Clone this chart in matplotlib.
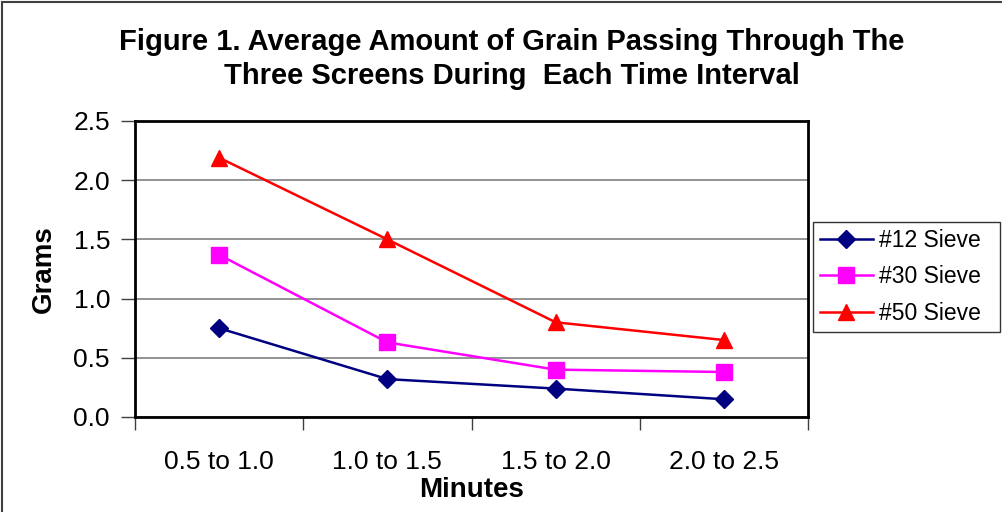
import matplotlib
matplotlib.use("Agg")
import matplotlib.pyplot as plt
from matplotlib.patches import Rectangle

# data
intervals = ["0.5 to 1.0", "1.0 to 1.5", "1.5 to 2.0", "2.0 to 2.5"]
sieve_12 = [0.75, 0.32, 0.24, 0.15]
sieve_30 = [1.37, 0.63, 0.40, 0.38]
sieve_50 = [2.19, 1.50, 0.80, 0.65]
series_names = ["#12 Sieve", "#30 Sieve", "#50 Sieve"]
title_lines = ["Figure 1. Average Amount of Grain Passing Through The",
               "Three Screens During  Each Time Interval"]

plt.rcParams['font.family'] = ['Liberation Sans', 'DejaVu Sans']

W, H = 1002, 512
fig = plt.figure(figsize=(W / 100, H / 100), dpi=100)

# outer chart frame
fig.patches.append(Rectangle((2 / W, -0.1), 1.2, (H - 2) / H + 0.1, transform=fig.transFigure,
                             fill=False, edgecolor='#404040', linewidth=1.5))

# plot area in pixels
left, right, top, bottom = 135, 808, 121, 417
ax = fig.add_axes([left / W, (H - bottom) / H, (right - left) / W, (bottom - top) / H])

x = list(range(len(intervals)))
ax.plot(x, sieve_12, color='#000080', marker='D', markersize=9, linewidth=1.8, label=series_names[0])
ax.plot(x, sieve_30, color='#FF00FF', marker='s', markersize=11, linewidth=1.8, label=series_names[1])
ax.plot(x, sieve_50, color='#FF0000', marker='^', markersize=12, linewidth=1.8, label=series_names[2])

ax.set_xlim(-0.5, len(intervals) - 0.5)
ax.set_ylim(0, 2.5)
ax.set_yticks([0, 0.5, 1.0, 1.5, 2.0, 2.5])
ax.set_yticklabels(["0.0", "0.5", "1.0", "1.5", "2.0", "2.5"])

# category boundaries as major ticks, labels on minor ticks at centers
ax.set_xticks([i - 0.5 for i in range(len(intervals) + 1)])
ax.set_xticklabels([])
ax.set_xticks(x, minor=True)
ax.set_xticklabels(intervals, minor=True)
ax.tick_params(axis='x', which='major', direction='out', length=9, width=1, color='#404040')
ax.tick_params(axis='x', which='minor', length=0, pad=24, labelsize=19)
ax.tick_params(axis='y', direction='out', length=10, width=1, color='#404040', labelsize=19, pad=8)

ax.yaxis.grid(True, color='#808080', linewidth=1.2)
ax.set_axisbelow(True)
for s in ax.spines.values():
    s.set_linewidth(2)
    s.set_color('black')

ax.set_xlabel("Minutes", fontsize=20, fontweight='bold', labelpad=2)
ax.set_ylabel("Grams", fontsize=20, fontweight='bold', labelpad=12)

fig.text(512 / W, 1 - 42 / H, title_lines[0], ha='center', va='center', fontsize=21, fontweight='bold')
fig.text(512 / W, 1 - 76 / H, title_lines[1], ha='center', va='center', fontsize=21, fontweight='bold')

leg = fig.legend(loc='lower left', bbox_to_anchor=(813 / W, (H - 332) / H, (1000 - 813) / W, (332 - 221) / H),
                 mode='expand', fontsize=16.5, frameon=True, fancybox=False, borderaxespad=0,
                 handlelength=2.3, labelspacing=0.6, borderpad=0.3, handletextpad=0.3)
leg.get_frame().set_edgecolor('black')
leg.get_frame().set_linewidth(1)

fig.savefig("out.png", dpi=100)
